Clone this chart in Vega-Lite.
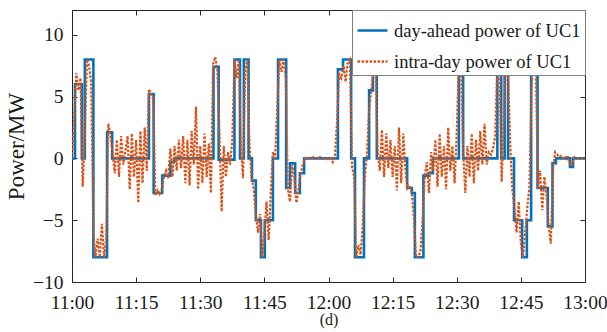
{
"$schema": "https://vega.github.io/schema/vega-lite/v6.json",
"width": 513, "height": 272,
"autosize": {"type": "none"},
"padding": {"left": 72, "top": 10, "right": 22, "bottom": 50},
"background": "white",
"config": {
 "view": {"stroke": "#262626", "strokeWidth": 1},
 "font": "Liberation Serif",
 "axis": {"grid": false, "domainColor": "#262626", "tickColor": "#262626", "tickSize": -5, "labelFont": "Liberation Serif", "labelFontSize": 19.5, "labelColor": "#1a1a1a", "titleFont": "Liberation Serif", "titleFontWeight": "normal", "titleColor": "#1a1a1a"},
 "legend": {"orient": "top-right", "offset": 0, "fillColor": "white", "strokeColor": "#7f7f7f", "padding": 4, "labelFont": "Liberation Serif", "labelFontSize": 18.5, "labelColor": "#1a1a1a", "labelLimit": 0, "symbolType": "stroke", "symbolSize": 900, "symbolStrokeWidth": 2.5, "rowPadding": 5, "labelOffset": 5, "titlePadding": 0}
},
"datasets": {
 "da": [
  {"t":0,"p":0,"s":"day-ahead power of UC1"},{"t":0.7,"p":6,"s":"day-ahead power of UC1"},{"t":2.3,"p":0,"s":"day-ahead power of UC1"},{"t":3.0,"p":8,"s":"day-ahead power of UC1"},{"t":5.0,"p":-8,"s":"day-ahead power of UC1"},{"t":8.2,"p":2.1,"s":"day-ahead power of UC1"},{"t":9.4,"p":0,"s":"day-ahead power of UC1"},{"t":18.0,"p":5.2,"s":"day-ahead power of UC1"},{"t":19.1,"p":-2.8,"s":"day-ahead power of UC1"},{"t":21.1,"p":-1.4,"s":"day-ahead power of UC1"},{"t":23.0,"p":-0.3,"s":"day-ahead power of UC1"},{"t":23.9,"p":0,"s":"day-ahead power of UC1"},{"t":33.1,"p":7.4,"s":"day-ahead power of UC1"},{"t":34.3,"p":-0.1,"s":"day-ahead power of UC1"},{"t":38.0,"p":8,"s":"day-ahead power of UC1"},{"t":39.3,"p":0,"s":"day-ahead power of UC1"},{"t":40.2,"p":8,"s":"day-ahead power of UC1"},{"t":41.3,"p":0,"s":"day-ahead power of UC1"},{"t":42.1,"p":-1.8,"s":"day-ahead power of UC1"},{"t":43.0,"p":-5,"s":"day-ahead power of UC1"},{"t":44.2,"p":-8,"s":"day-ahead power of UC1"},{"t":45.1,"p":-5,"s":"day-ahead power of UC1"},{"t":47.0,"p":0,"s":"day-ahead power of UC1"},{"t":48.2,"p":8,"s":"day-ahead power of UC1"},{"t":50.1,"p":-2.4,"s":"day-ahead power of UC1"},{"t":51.0,"p":-0.4,"s":"day-ahead power of UC1"},{"t":52.2,"p":-2.8,"s":"day-ahead power of UC1"},{"t":53.3,"p":-1.2,"s":"day-ahead power of UC1"},{"t":54.3,"p":0,"s":"day-ahead power of UC1"},{"t":62.2,"p":7.2,"s":"day-ahead power of UC1"},{"t":63.4,"p":8,"s":"day-ahead power of UC1"},{"t":65.3,"p":0,"s":"day-ahead power of UC1"},{"t":66.2,"p":-8,"s":"day-ahead power of UC1"},{"t":68.3,"p":0,"s":"day-ahead power of UC1"},{"t":69.5,"p":5.5,"s":"day-ahead power of UC1"},{"t":70.4,"p":8,"s":"day-ahead power of UC1"},{"t":71.3,"p":0,"s":"day-ahead power of UC1"},{"t":78.4,"p":-2.4,"s":"day-ahead power of UC1"},{"t":79.5,"p":-2.8,"s":"day-ahead power of UC1"},{"t":80.2,"p":-8,"s":"day-ahead power of UC1"},{"t":82.2,"p":-1.4,"s":"day-ahead power of UC1"},{"t":83.3,"p":-1.2,"s":"day-ahead power of UC1"},{"t":84.4,"p":0,"s":"day-ahead power of UC1"},{"t":90.5,"p":7.5,"s":"day-ahead power of UC1"},{"t":91.5,"p":0,"s":"day-ahead power of UC1"},{"t":99.5,"p":8,"s":"day-ahead power of UC1"},{"t":100.4,"p":0,"s":"day-ahead power of UC1"},{"t":101.2,"p":8,"s":"day-ahead power of UC1"},{"t":102.0,"p":0,"s":"day-ahead power of UC1"},{"t":103.4,"p":-5,"s":"day-ahead power of UC1"},{"t":105.3,"p":-8,"s":"day-ahead power of UC1"},{"t":106.4,"p":-5,"s":"day-ahead power of UC1"},{"t":107.4,"p":8,"s":"day-ahead power of UC1"},{"t":108.9,"p":-2.4,"s":"day-ahead power of UC1"},{"t":111.3,"p":-5.5,"s":"day-ahead power of UC1"},{"t":112.4,"p":-0.4,"s":"day-ahead power of UC1"},{"t":113.2,"p":0,"s":"day-ahead power of UC1"},{"t":116.5,"p":-0.7,"s":"day-ahead power of UC1"},{"t":117.2,"p":0,"s":"day-ahead power of UC1"},{"t":120,"p":0,"s":"day-ahead power of UC1"}
 ],
 "id": [
  {"t":0,"p":0},{"t":0.5,"p":3},{"t":1,"p":6.9},{"t":1.5,"p":5.5},{"t":2,"p":6.5},{"t":2.5,"p":-2.3},{"t":3,"p":2},{"t":3.5,"p":8},{"t":4,"p":7.5},{"t":4.5,"p":6},
  {"t":5,"p":-6},{"t":5.5,"p":-8},{"t":6,"p":-6.5},{"t":6.5,"p":-8},{"t":7,"p":-5.3},{"t":7.5,"p":-8},{"t":8,"p":-6.5},{"t":8.5,"p":2.8},{"t":9,"p":1.8},{"t":9.5,"p":0.5},
  {"t":10,"p":-1.2},{"t":10.5,"p":1.5},{"t":11,"p":-1.5},{"t":11.5,"p":1.8},{"t":12,"p":-0.5},{"t":12.5,"p":0.6},{"t":13,"p":1.8},{"t":13.5,"p":-2.5},{"t":14,"p":2},{"t":14.5,"p":-1.5},
  {"t":15,"p":1.5},{"t":15.5,"p":-3.6},{"t":16,"p":2.2},{"t":16.5,"p":-2},{"t":17,"p":2.5},{"t":17.5,"p":-1},{"t":18,"p":5.6},{"t":18.5,"p":5.2},{"t":19,"p":4.8},{"t":19.5,"p":-3},
  {"t":20,"p":-2.6},{"t":20.5,"p":-2.9},{"t":21,"p":-2.5},{"t":21.5,"p":-1.5},{"t":22,"p":-1.0},{"t":22.5,"p":-1.6},{"t":23,"p":0.8},{"t":23.5,"p":-1.5},{"t":24,"p":1},{"t":24.5,"p":-1},
  {"t":25,"p":1.5},{"t":25.5,"p":-0.8},{"t":26,"p":1.8},{"t":26.5,"p":-2},{"t":27,"p":1.5},{"t":27.5,"p":-2.2},{"t":28,"p":2.2},{"t":28.5,"p":-0.5},{"t":29,"p":4.2},{"t":29.5,"p":-2.5},
  {"t":30,"p":1},{"t":30.5,"p":-2},{"t":31,"p":2},{"t":31.5,"p":-1.5},{"t":32,"p":1.2},{"t":32.5,"p":-2.8},{"t":33,"p":7.6},{"t":33.5,"p":8.2},{"t":34,"p":7.2},{"t":34.5,"p":2},
  {"t":35,"p":-4.3},{"t":35.5,"p":1},{"t":36,"p":-1.5},{"t":36.5,"p":0.5},{"t":37,"p":-0.5},{"t":37.5,"p":1.5},{"t":38,"p":8},{"t":38.5,"p":6.5},{"t":39,"p":8},{"t":39.5,"p":1},
  {"t":40,"p":-1.6},{"t":40.5,"p":7},{"t":41,"p":8},{"t":41.5,"p":1.2},{"t":42,"p":-1.5},{"t":42.5,"p":-2.5},{"t":43,"p":-4.5},{"t":43.5,"p":-6},{"t":44,"p":-4.5},{"t":44.5,"p":-8},
  {"t":45,"p":-6},{"t":45.5,"p":-3.5},{"t":46,"p":-6.6},{"t":46.5,"p":-2.8},{"t":47,"p":0.5},{"t":47.5,"p":0},{"t":48,"p":4},{"t":48.5,"p":8},{"t":49,"p":7},{"t":49.5,"p":8},
  {"t":50,"p":6.5},{"t":50.5,"p":-2.5},{"t":51,"p":-3.5},{"t":51.5,"p":-0.5},{"t":52,"p":-1.5},{"t":52.5,"p":-3.6},{"t":53,"p":-2.5},{"t":53.5,"p":-1.2},{"t":54,"p":-0.5},{"t":54.5,"p":0},
  {"t":55,"p":0.1},{"t":55.5,"p":0},{"t":56,"p":0},{"t":56.5,"p":0.1},{"t":57,"p":0},{"t":57.5,"p":0},{"t":58,"p":0.1},{"t":58.5,"p":0},{"t":59,"p":0},{"t":59.5,"p":0},
  {"t":60,"p":-0.1},{"t":60.5,"p":0},{"t":61,"p":-0.3},{"t":61.5,"p":0.1},{"t":62,"p":3},{"t":62.5,"p":6.8},{"t":63,"p":6.5},{"t":63.5,"p":7.5},{"t":64,"p":6.2},{"t":64.5,"p":7.8},
  {"t":65,"p":8},{"t":65.5,"p":-0.7},{"t":66,"p":-1.5},{"t":66.5,"p":-8},{"t":67,"p":-7},{"t":67.5,"p":-7.8},{"t":68,"p":-5.5},{"t":68.5,"p":-1.5},{"t":69,"p":0.3},{"t":69.5,"p":4},
  {"t":70,"p":5.5},{"t":70.5,"p":7},{"t":71,"p":8},{"t":71.5,"p":0.5},{"t":72,"p":-1},{"t":72.5,"p":2.3},{"t":73,"p":-1.5},{"t":73.5,"p":2},{"t":74,"p":-0.8},{"t":74.5,"p":1.5},
  {"t":75,"p":-1.5},{"t":75.5,"p":1},{"t":76,"p":-2.6},{"t":76.5,"p":2.5},{"t":77,"p":-2},{"t":77.5,"p":2},{"t":78,"p":-1},{"t":78.5,"p":-2.4},{"t":79,"p":-2.2},{"t":79.5,"p":-2.8},
  {"t":80,"p":-5},{"t":80.5,"p":-8},{"t":81,"p":-8},{"t":81.5,"p":-7.5},{"t":82,"p":-5},{"t":82.5,"p":-1.5},{"t":83,"p":-0.3},{"t":83.5,"p":-2.8},{"t":84,"p":0.5},{"t":84.5,"p":-1},
  {"t":85,"p":1.5},{"t":85.5,"p":-2.3},{"t":86,"p":2},{"t":86.5,"p":-1.5},{"t":87,"p":1},{"t":87.5,"p":-2.5},{"t":88,"p":2.5},{"t":88.5,"p":-1},{"t":89,"p":1},{"t":89.5,"p":-2},
  {"t":90,"p":2.1},{"t":90.5,"p":8},{"t":91,"p":7.5},{"t":91.5,"p":0.5},{"t":92,"p":-2.8},{"t":92.5,"p":1},{"t":93,"p":-1.5},{"t":93.5,"p":2},{"t":94,"p":-2},{"t":94.5,"p":1.5},
  {"t":95,"p":-1},{"t":95.5,"p":2.2},{"t":96,"p":-0.5},{"t":96.5,"p":2.8},{"t":97,"p":-0.5},{"t":97.5,"p":0.5},{"t":98,"p":0.3},{"t":98.5,"p":0.8},{"t":99,"p":1.8},{"t":99.5,"p":8},
  {"t":100,"p":7},{"t":100.5,"p":-1.9},{"t":101,"p":3},{"t":101.5,"p":8},{"t":102,"p":7},{"t":102.5,"p":1.2},{"t":103,"p":-2.5},{"t":103.5,"p":-4},{"t":104,"p":-6},{"t":104.5,"p":-3.5},
  {"t":105,"p":-6.9},{"t":105.5,"p":-8},{"t":106,"p":-6},{"t":106.5,"p":-4},{"t":107,"p":-2.3},{"t":107.5,"p":6},{"t":108,"p":8},{"t":108.5,"p":7},{"t":109,"p":-2.5},{"t":109.5,"p":-1},
  {"t":110,"p":-4.2},{"t":110.5,"p":-1.5},{"t":111,"p":-3},{"t":111.5,"p":-5.5},{"t":112,"p":-6.9},{"t":112.5,"p":-1},{"t":113,"p":0.5},{"t":113.5,"p":0.3},{"t":114,"p":0.1},{"t":114.5,"p":0.2},
  {"t":115,"p":0},{"t":115.5,"p":0.1},{"t":116,"p":0.1},{"t":116.5,"p":-0.6},{"t":117,"p":-0.5},{"t":117.5,"p":0.1},{"t":118,"p":0.1},{"t":118.5,"p":0},{"t":119,"p":0},{"t":119.5,"p":0},{"t":120,"p":0}
 ]
},
"layer": [
 {
  "data": {"name": "da"},
  "mark": {"type": "line", "interpolate": "step-after", "strokeWidth": 2.6, "clip": true},
  "encoding": {
   "x": {"field": "t", "type": "quantitative", "scale": {"domain": [0, 120], "nice": false, "zero": false},
     "axis": {"orient": "bottom", "values": [0,15,30,45,60,75,90,105,120], "labelExpr": "(11 + floor(datum.value/60)) + ':' + (datum.value % 60 == 0 ? '00' : '' + (datum.value % 60))", "labelPadding": 16, "title": "(d)", "titleFontSize": 16, "titlePadding": 0, "labelFlush": false}},
   "y": {"field": "p", "type": "quantitative", "scale": {"domain": [-10, 12], "nice": false, "zero": false},
     "axis": {"orient": "left", "values": [-10,-5,0,5,10], "labelPadding": 14, "title": "Power/MW", "titleFontSize": 23, "titlePadding": 4}},
   "color": {"field": "s", "type": "nominal", "scale": {"domain": ["day-ahead power of UC1", "intra-day power of UC1"], "range": ["#0072BD", "#D95319"]}, "legend": {"title": null}},
   "strokeDash": {"field": "s", "type": "nominal", "scale": {"domain": ["day-ahead power of UC1", "intra-day power of UC1"], "range": [[1, 0], [2.5, 1.5]]}, "legend": {"title": null}}
  }
 },
 {
  "data": {"name": "id"},
  "mark": {"type": "line", "strokeWidth": 2.2, "color": "#D95319", "strokeDash": [2.5, 1.5], "clip": true},
  "encoding": {
   "x": {"field": "t", "type": "quantitative", "axis": {"orient": "top", "values": [0,15,30,45,60,75,90,105,120], "labels": false, "title": null}},
   "y": {"field": "p", "type": "quantitative", "axis": {"orient": "right", "values": [-10,-5,0,5,10], "labels": false, "title": null}}
  }
 }
],
"resolve": {"axis": {"x": "independent", "y": "independent"}}
}
